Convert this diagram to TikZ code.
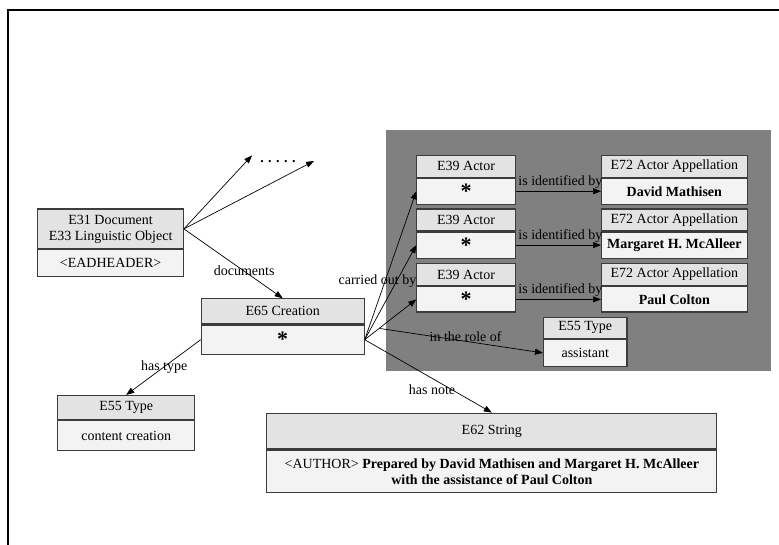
\documentclass[tikz,border=0pt]{standalone}
\usepackage{fontspec}
\setmainfont{Liberation Serif}
\usetikzlibrary{arrows.meta}

\definecolor{hdrfill}{RGB}{227,227,227}
\definecolor{bodyfill}{RGB}{243,243,243}
\definecolor{boxline}{RGB}{60,60,60}
\definecolor{groupbg}{RGB}{128,128,128}

% header / body compartments of a class box
\newcommand\classbox[8]{%
  \node[hdr, minimum width=#4, minimum height=#5] (#1-h) at (#2,#3) {#7};
  \node[bdy, minimum width=#4, minimum height=#6] (#1-b) at (#1-h.south west) {#8};
}
\newcommand\anyinst{\raisebox{-3.5pt}{\fontsize{22}{22}\selectfont\textbf{*}}}

\begin{document}
\begin{tikzpicture}[x=1pt, y=-1pt,
  txt/.style={font=\fontsize{14}{16}\selectfont, text=black},
  hdr/.style={txt, draw=boxline, line width=1.1pt, fill=hdrfill, inner sep=0pt,
              anchor=north west, align=center},
  bdy/.style={txt, draw=boxline, line width=1.1pt, fill=bodyfill, inner sep=0pt,
              anchor=north west, align=center},
  link/.style={draw=black, line width=0.7pt, -{Triangle[length=8pt, width=6pt]}},
  lbl/.style={txt, inner sep=0pt}
]
\useasboundingbox (0,0) rectangle (779,545);

% frame
\draw[line width=2pt] (8,546) -- (8,10) -- (780,10);

% group of actors
\fill[groupbg] (386,130.3) rectangle (771,370.5);

% class boxes
\classbox{e31}{37.3}{208.5}{145.5}{39.7}{26.4}{E31 Document\\E33 Linguistic Object}{<EADHEADER>}
\classbox{e65}{200.7}{298.2}{162.9}{25.1}{29.5}{E65 Creation}{\anyinst}
\classbox{a1}{416.3}{154.7}{98.4}{21.9}{26.0}{E39 Actor}{\anyinst}
\classbox{a2}{416.3}{208.5}{98.4}{21.9}{26.1}{E39 Actor}{\anyinst}
\classbox{a3}{416.3}{263.1}{98.4}{21.9}{25.4}{E39 Actor}{\anyinst}
\classbox{p1}{601}{154.7}{145.6}{21.9}{26.0}{E72 Actor Appellation}{\textbf{David Mathisen}}
\classbox{p2}{601}{208.5}{145.6}{21.9}{26.1}{E72 Actor Appellation}{\textbf{Margaret H. McAlleer}}
\classbox{p3}{601}{263.1}{145.6}{21.9}{25.4}{E72 Actor Appellation}{\textbf{Paul Colton}}
\classbox{e55a}{543}{316.6}{83.4}{21.3}{26.7}{E55 Type}{assistant}
\classbox{e55c}{57.1}{394.9}{137.1}{24.3}{29.8}{E55 Type}{content creation}
\classbox{e62}{266.3}{412.6}{450}{35.8}{42.7}{E62 String}{<AUTHOR> \textbf{Prepared by David Mathisen and Margaret H. McAlleer}\\\textbf{with the assistance of Paul Colton}}

% open ends
\coordinate (more1) at (252,155.4);
\coordinate (more2) at (314,161);
\node[lbl] (dots) at (278,161.5) {\textbf{.\hspace{4.5pt}.\hspace{4.5pt}.\hspace{4.5pt}.\hspace{4.5pt}.}};
\coordinate (roleStart) at (380,328.5);

% connectors
\draw[link] (e31-h.east) -- (more1);
\draw[link] (e31-h.east) -- (more2);
\draw[link] (e31-h.east) -- node[lbl, pos=0.61] {documents} (e65-h.north);
\draw[link] (e65-b.west) -- node[lbl, pos=0.49] {has type} (e55c-h.north);
\draw[link] (e65-b.east) -- (a1-b.west);
\draw[link] (e65-b.east) -- (a2-b.west);
\draw[link] (e65-b.east) -- (a3-b.west);
\node[lbl] (carried) at (377.5,281.5) {carried out by};
\draw[link] (roleStart) -- node[lbl, pos=0.525, yshift=5pt] {in the role of} (e55a-b.west);
\draw[link] (e65-b.east) -- (e62-h.north);
\node[lbl] (note) at (432,390) {has note};
\draw[link] (a1-b.east) -- node[lbl, above=2pt, xshift=2pt] {is identified by} (p1-b.west);
\draw[link] (a2-b.east) -- node[lbl, above=2pt, xshift=2pt] {is identified by} (p2-b.west);
\draw[link] (a3-b.east) -- node[lbl, above=2pt, xshift=2pt] {is identified by} (p3-b.west);
\end{tikzpicture}
\end{document}
